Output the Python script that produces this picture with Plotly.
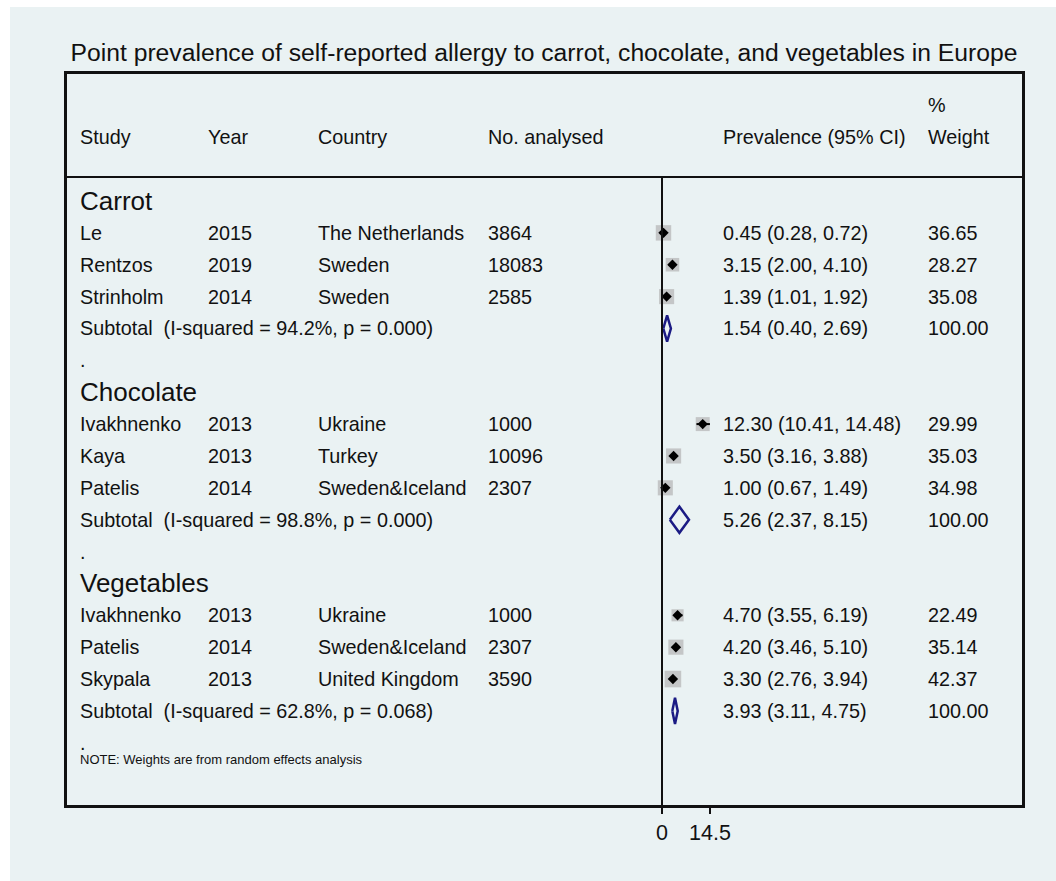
import plotly.graph_objects as go

# ---- study-level data -------------------------------------------------------
groups = ["Carrot", "Chocolate", "Vegetables"]

study = [["Le", "Rentzos", "Strinholm"],
         ["Ivakhnenko", "Kaya", "Patelis"],
         ["Ivakhnenko", "Patelis", "Skypala"]]
year = [["2015", "2019", "2014"],
        ["2013", "2013", "2014"],
        ["2013", "2014", "2013"]]
country = [["The Netherlands", "Sweden", "Sweden"],
           ["Ukraine", "Turkey", "Sweden&Iceland"],
           ["Ukraine", "Sweden&Iceland", "United Kingdom"]]
n_analysed = [["3864", "18083", "2585"],
              ["1000", "10096", "2307"],
              ["1000", "2307", "3590"]]
prev = [[0.45, 3.15, 1.39],
        [12.30, 3.50, 1.00],
        [4.70, 4.20, 3.30]]
lci = [[0.28, 2.00, 1.01],
       [10.41, 3.16, 0.67],
       [3.55, 3.46, 2.76]]
uci = [[0.72, 4.10, 1.92],
       [14.48, 3.88, 1.49],
       [6.19, 5.10, 3.94]]
weight = [[36.65, 28.27, 35.08],
          [29.99, 35.03, 34.98],
          [22.49, 35.14, 42.37]]

# ---- pooled (random effects) subtotals --------------------------------------
sub_i2 = ["94.2%", "98.8%", "62.8%"]
sub_p = ["0.000", "0.000", "0.068"]
sub_est = [1.54, 5.26, 3.93]
sub_lci = [0.40, 2.37, 3.11]
sub_uci = [2.69, 8.15, 4.75]

x_ticks = [0, 14.5]

# ---- layout geometry --------------------------------------------------------
W, H = 1056, 881
L, R, T, B = 67, 1022, 74, 805          # plot box in pixels
X0_PX, PX_PER_UNIT = 662, 48 / 14.5      # zero line position, scale
ROW0_PX, ROW_PX = 201, 31.87            # first row centre, row pitch

x_lo = (L - X0_PX) / PX_PER_UNIT
x_hi = (R - X0_PX) / PX_PER_UNIT
y_top = (T - ROW0_PX) / ROW_PX
y_bot = (B - ROW0_PX) / ROW_PX


def px_x(px):
    return (px - L) / (R - L)


def px_y(py):
    return (B - py) / (B - T)


BG = "#EAF2F3"
INK = "#111111"
FONT = "Liberation Sans, Arial, sans-serif"
FS = 19.8

# left edges of the text columns (annotation box adds ~2px of padding)
col_px = {"study": 78, "year": 206, "country": 316, "n": 486,
          "ci": 721, "w": 926}

annotations = []


def label(px, row, text, size=FS):
    annotations.append(dict(x=px_x(px), xref="paper", y=row, yref="y",
                            text=text, showarrow=False, xanchor="left",
                            yanchor="middle", font=dict(size=size, color=INK,
                                                        family=FONT)))


# header
label(col_px["study"], -2.0, "Study")
label(col_px["year"], -2.0, "Year")
label(col_px["country"], -2.0, "Country")
label(col_px["n"], -2.0, "No. analysed")
label(col_px["ci"], -2.0, "Prevalence (95% CI)")
label(col_px["w"], -3.0, "%")
label(col_px["w"], -2.0, "Weight")

box_x, box_y, box_s = [], [], []
pt_x, pt_y, err_p, err_m = [], [], [], []
dia_x, dia_y = [], []
DH = 0.41

row = 0
for g in range(len(groups)):
    label(col_px["study"], row, groups[g], size=26)
    row += 1
    for i in range(len(study[g])):
        label(col_px["study"], row, study[g][i])
        label(col_px["year"], row, year[g][i])
        label(col_px["country"], row, country[g][i])
        label(col_px["n"], row, n_analysed[g][i])
        label(col_px["ci"], row,
              f"{prev[g][i]:.2f} ({lci[g][i]:.2f}, {uci[g][i]:.2f})")
        label(col_px["w"], row, f"{weight[g][i]:.2f}")
        box_x.append(prev[g][i])
        box_y.append(row)
        box_s.append(2.55 * weight[g][i] ** 0.5)
        pt_x.append(prev[g][i])
        pt_y.append(row)
        err_p.append(uci[g][i] - prev[g][i])
        err_m.append(prev[g][i] - lci[g][i])
        row += 1
    label(col_px["study"], row,
          f"Subtotal  (I-squared = {sub_i2[g]}, p = {sub_p[g]})")
    label(col_px["ci"], row,
          f"{sub_est[g]:.2f} ({sub_lci[g]:.2f}, {sub_uci[g]:.2f})")
    label(col_px["w"], row, "100.00")
    dia_x += [sub_lci[g], sub_est[g], sub_uci[g], sub_est[g], sub_lci[g], None]
    dia_y += [row, row - DH, row, row + DH, row, None]
    row += 1
    label(col_px["study"], row, ".")
    row += 1

annotations.append(dict(x=px_x(78), xref="paper", y=17.52, yref="y",
                        text="NOTE: Weights are from random effects analysis",
                        showarrow=False, xanchor="left", yanchor="middle",
                        font=dict(size=13, color=INK, family=FONT)))

fig = go.Figure()

# weight boxes
fig.add_trace(go.Scatter(
    x=box_x, y=box_y, mode="markers", hoverinfo="skip",
    marker=dict(symbol="square", size=box_s, color="#B4B4B4",
                line=dict(width=0))))

# point estimates with confidence intervals
fig.add_trace(go.Scatter(
    x=pt_x, y=pt_y, mode="markers",
    marker=dict(symbol="diamond", size=8, color="black"),
    error_x=dict(type="data", symmetric=False, array=err_p,
                 arrayminus=err_m, width=0, thickness=2, color="black")))

# pooled estimate diamonds
fig.add_trace(go.Scatter(
    x=dia_x, y=dia_y, mode="lines",
    line=dict(color="#1B1B84", width=2.5)))

shapes = [
    # white strips along the top and left page edges
    dict(type="rect", xref="paper", yref="paper", layer="below",
         x0=px_x(0), x1=px_x(10), y0=px_y(H), y1=px_y(0),
         fillcolor="white", line=dict(width=0)),
    dict(type="rect", xref="paper", yref="paper", layer="below",
         x0=px_x(0), x1=px_x(W), y0=px_y(7), y1=px_y(0),
         fillcolor="white", line=dict(width=0)),
    # header separator
    dict(type="line", xref="paper", yref="y", x0=0, x1=1,
         y0=-0.753, y1=-0.753, line=dict(color=INK, width=2)),
    # null line
    dict(type="line", xref="x", yref="y", x0=0, x1=0,
         y0=-0.753, y1=y_bot, line=dict(color=INK, width=2)),
]

fig.update_layout(
    width=W, height=H,
    margin=dict(l=L, r=W - R, t=T, b=H - B, pad=0),
    paper_bgcolor=BG, plot_bgcolor=BG,
    showlegend=False,
    font=dict(family=FONT, color=INK),
    title=dict(text="Point prevalence of self-reported allergy to carrot, "
                    "chocolate, and vegetables in Europe",
               x=px_x(544), xref="paper", xanchor="center",
               y=1 - 52 / H, yref="container", yanchor="middle",
               font=dict(size=24.7, color=INK, family=FONT)),
    xaxis=dict(range=[x_lo, x_hi], showgrid=False, zeroline=False,
               showline=True, mirror=True, linecolor=INK, linewidth=2.5,
               ticks="outside", ticklen=6, tickwidth=2, tickcolor=INK,
               tickvals=x_ticks, ticktext=["0", "14.5"],
               tickfont=dict(size=21.5, color=INK, family=FONT),
               fixedrange=True),
    yaxis=dict(range=[y_bot, y_top], showgrid=False, zeroline=False,
               showline=True, mirror=True, linecolor=INK, linewidth=2.5,
               showticklabels=False, ticks="", fixedrange=True),
    annotations=annotations,
    shapes=shapes,
)

fig.write_html("out.html")
